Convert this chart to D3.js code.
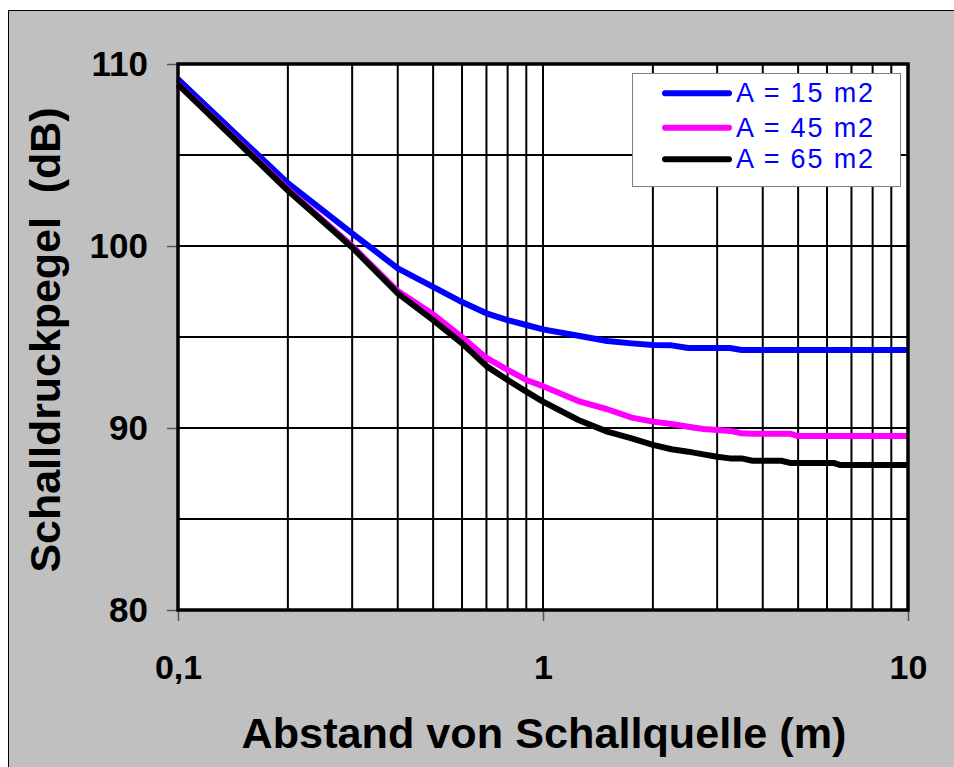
<!DOCTYPE html>
<html>
<head>
<meta charset="utf-8">
<script src="https://cdn.jsdelivr.net/npm/d3@7"></script>
<style>
  html, body { margin: 0; padding: 0; background: #ffffff; }
  svg { display: block; font-family: Arial, "Liberation Sans", Helvetica, sans-serif; }
</style>
</head>
<body>
<svg id="chart" width="954" height="767"></svg>
<script>
// ---- data ----
const distances = [0.1,0.2,0.3,0.4,0.5,0.6,0.7,0.8,0.9,1,1.25,1.5,1.75,2,2.25,2.5,2.75,3,3.25,3.5,3.75,4,4.5,4.75,5,6,6.25,6.5,7,8,9,10];
const levelA15 = [109.16,103.45,100.7,98.77,97.75,96.92,96.3,95.93,95.66,95.42,95.07,94.78,94.65,94.56,94.54,94.4,94.4,94.4,94.4,94.29,94.29,94.29,94.29,94.29,94.29,94.29,94.29,94.29,94.29,94.29,94.29,94.29];
const levelA45 = [108.9,103.12,100.0,97.52,96.25,95.0,93.85,93.19,92.64,92.3,91.48,91.03,90.57,90.35,90.22,90.07,89.95,89.89,89.84,89.71,89.69,89.69,89.69,89.69,89.56,89.56,89.56,89.56,89.56,89.56,89.56,89.56];
const levelA65 = [108.88,103.05,99.92,97.4,95.93,94.65,93.4,92.64,92.0,91.45,90.44,89.8,89.43,89.07,88.83,88.7,88.55,88.42,88.33,88.33,88.2,88.2,88.2,88.08,88.08,88.08,88.08,87.97,87.97,87.97,87.97,87.97];
const seriesNames = ["A = 15 m2", "A = 45 m2", "A = 65 m2"];
const seriesColors = ["#0000ff", "#ff00ff", "#000000"];
const xTickValues = [0.1, 1, 10];
const xTickLabels = ["0,1", "1", "10"];
const xGridValues = [0.2,0.3,0.4,0.5,0.6,0.7,0.8,0.9,1,2,3,4,5,6,7,8,9];
const yTickValues = [80, 90, 100, 110];
const yGridValues = [85, 90, 95, 100, 105];
const xTitle = "Abstand von Schallquelle (m)";
const yTitle = "Schalldruckpegel  (dB)";

const seriesValues = [levelA15, levelA45, levelA65];

// ---- layout ----
const svg = d3.select("#chart");
const plot = { left: 178, right: 908, top: 64, bottom: 610 };

svg.append("rect")
  .attr("x", 8.5).attr("y", 10.5)
  .attr("width", 1000).attr("height", 1000)
  .attr("fill", "#c0c0c0").attr("stroke", "#000").attr("stroke-width", 1);

const x = d3.scaleLog().domain([0.1, 10]).range([plot.left, plot.right]);
const y = d3.scaleLinear().domain([80, 110]).range([plot.bottom, plot.top]);

// plot area
svg.append("rect")
  .attr("x", plot.left).attr("y", plot.top)
  .attr("width", plot.right - plot.left).attr("height", plot.bottom - plot.top)
  .attr("fill", "#ffffff");

// gridlines
const grid = svg.append("g").attr("stroke", "#000").attr("stroke-width", 2);
grid.selectAll("line.v").data(xGridValues).join("line")
  .attr("class", "v")
  .attr("x1", d => x(d)).attr("x2", d => x(d))
  .attr("y1", plot.top).attr("y2", plot.bottom);
grid.selectAll("line.h").data(yGridValues).join("line")
  .attr("class", "h")
  .attr("x1", plot.left).attr("x2", plot.right)
  .attr("y1", d => y(d)).attr("y2", d => y(d));

// axes
const yAxis = d3.axisLeft(y).tickValues(yTickValues).tickSize(11).tickPadding(19)
  .tickFormat(d3.format("d"));
const gy = svg.append("g").attr("transform", `translate(${plot.left},0)`).call(yAxis);
gy.select(".domain").remove();
gy.selectAll(".tick line").attr("stroke", "#555").attr("stroke-width", 1.5);
gy.selectAll(".tick text")
  .attr("font-size", 35).attr("font-weight", "bold").attr("fill", "#000")
  .attr("font-family", "Arial, 'Liberation Sans', sans-serif");

const xAxis = d3.axisBottom(x).tickValues(xTickValues).tickSize(11).tickPadding(34)
  .tickFormat((d, i) => xTickLabels[i]);
const gx = svg.append("g").attr("transform", `translate(0,${plot.bottom})`).call(xAxis);
gx.select(".domain").remove();
gx.selectAll(".tick line").attr("stroke", "#555").attr("stroke-width", 1.5);
gx.selectAll(".tick text")
  .attr("font-size", 34).attr("font-weight", "bold").attr("fill", "#000")
  .attr("font-family", "Arial, 'Liberation Sans', sans-serif");

// series lines
const line = d3.line()
  .x((d, i) => x(distances[i]))
  .y(d => y(d));
seriesValues.forEach((vals, k) => {
  svg.append("path")
    .datum(vals)
    .attr("d", line)
    .attr("fill", "none")
    .attr("stroke", seriesColors[k])
    .attr("stroke-width", 6)
    .attr("stroke-linejoin", "round")
    .attr("stroke-linecap", "butt");
});

// plot frame
svg.append("rect")
  .attr("x", plot.left).attr("y", plot.top)
  .attr("width", plot.right - plot.left).attr("height", plot.bottom - plot.top)
  .attr("fill", "none").attr("stroke", "#000").attr("stroke-width", 3.5);

// legend
const lg = svg.append("g");
lg.append("rect")
  .attr("x", 632.5).attr("y", 73.5).attr("width", 268).attr("height", 113)
  .attr("fill", "#ffffff").attr("stroke", "#808080").attr("stroke-width", 1);
const legendRows = [93.3, 127.7, 159.3];
seriesNames.forEach((name, k) => {
  lg.append("line")
    .attr("x1", 665).attr("x2", 729)
    .attr("y1", legendRows[k]).attr("y2", legendRows[k])
    .attr("stroke", seriesColors[k]).attr("stroke-width", 6)
    .attr("stroke-linecap", "round");
  lg.append("text")
    .attr("x", 736).attr("y", legendRows[k] + 9)
    .attr("font-size", 27).attr("fill", "#0000ff")
    .attr("textLength", 137).attr("lengthAdjust", "spacing")
    .text(name);
});

// axis titles
svg.append("text")
  .attr("x", 544).attr("y", 748)
  .attr("text-anchor", "middle")
  .attr("font-size", 42).attr("font-weight", "bold").attr("fill", "#000")
  .attr("textLength", 605).attr("lengthAdjust", "spacingAndGlyphs")
  .text(xTitle);

svg.append("text")
  .attr("transform", "translate(60,340) rotate(-90)")
  .attr("text-anchor", "middle")
  .attr("font-size", 42).attr("font-weight", "bold").attr("fill", "#000")
  .attr("textLength", 465).attr("lengthAdjust", "spacingAndGlyphs")
  .style("white-space", "pre")
  .attr("xml:space", "preserve")
  .text(yTitle);
</script>
</body>
</html>
